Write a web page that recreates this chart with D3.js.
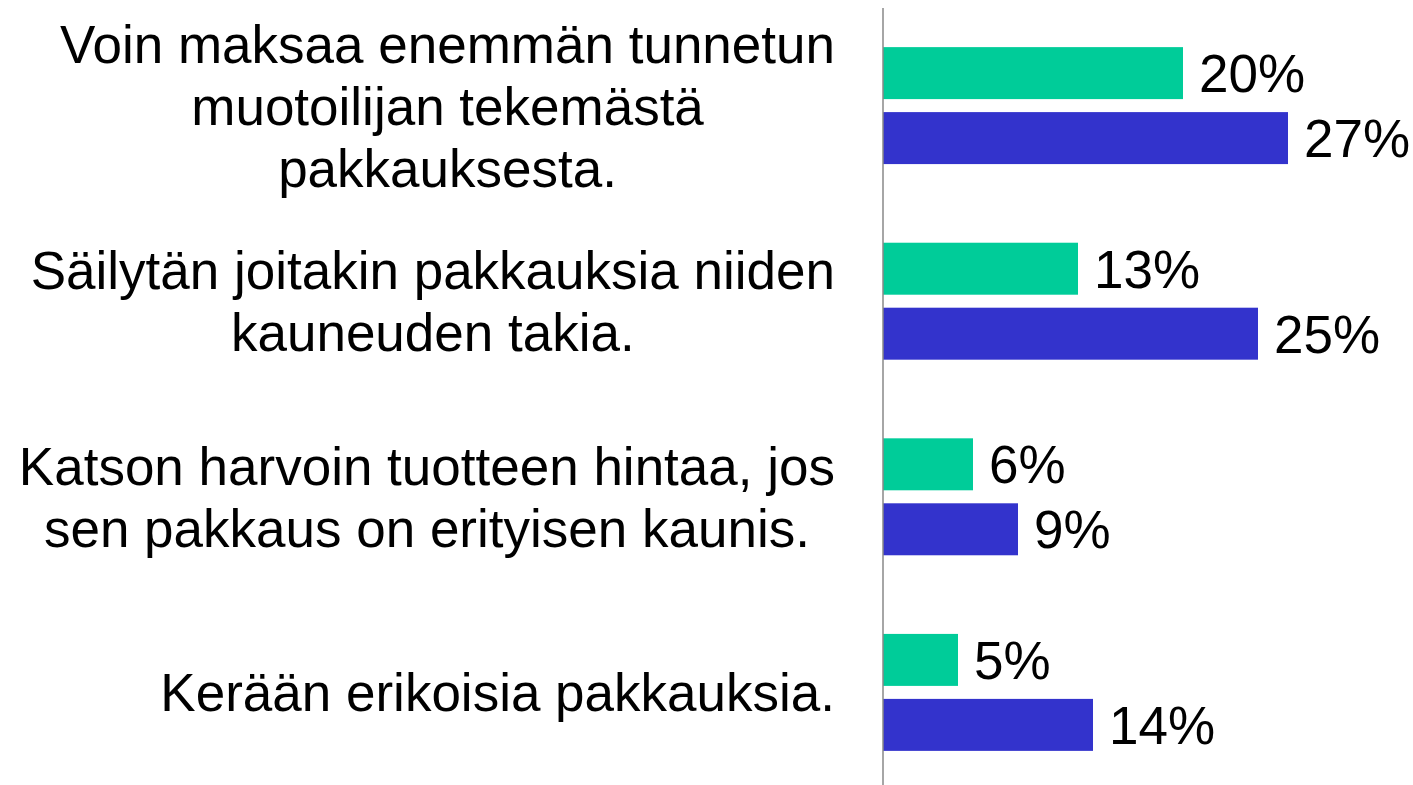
<!DOCTYPE html>
<html>
<head>
<meta charset="utf-8">
<script src="https://cdn.jsdelivr.net/npm/d3@7"></script>
<style>
body{margin:0;background:#fff}
text{font-family:"Liberation Sans",Arial,sans-serif;fill:#000}
</style>
</head>
<body>
<svg id="chart" width="1413" height="785"></svg>
<script>
// statements (lines as shown in the picture)
const categories=[
  ["Voin maksaa enemmän tunnetun","muotoilijan tekemästä","pakkauksesta."],
  ["Säilytän joitakin pakkauksia niiden","kauneuden takia."],
  ["Katson harvoin tuotteen hintaa, jos","sen pakkaus on erityisen kaunis."],
  ["Kerään erikoisia pakkauksia."]
]
const seriesA=[20,13,6,5]
const seriesB=[27,25,9,14]
const seriesKeys=["a","b"]
const colors={a:"#00CC99",b:"#3333CC"}

const svg=d3.select("#chart")
const x0=883
const fs=53, lh=62

const x=d3.scaleLinear().domain([0,1]).range([0,1500])
const y=d3.scaleBand().domain(d3.range(categories.length)).range([8,790]).paddingInner(0.402).paddingOuter(0.2)
const ySub=d3.scaleBand().domain(seriesKeys).range([0,y.bandwidth()]).paddingInner(0.2)

const rows=categories.map((c,i)=>({i,lines:c,a:seriesA[i],b:seriesB[i]}))

// bars
const g=svg.selectAll("g.grp").data(rows).join("g").attr("class","grp")
  .attr("transform",d=>`translate(${x0},${y(d.i)})`)
g.selectAll("rect").data(d=>seriesKeys.map(k=>({k,v:d[k]})))
  .join("rect")
  .attr("x",0).attr("y",d=>ySub(d.k))
  .attr("width",d=>x(d.v/100)).attr("height",ySub.bandwidth())
  .attr("fill",d=>colors[d.k])
g.selectAll("text.val").data(d=>seriesKeys.map(k=>({k,v:d[k]})))
  .join("text").attr("class","val")
  .attr("x",d=>x(d.v/100)+16)
  .attr("y",d=>ySub(d.k)+ySub.bandwidth()/2+fs*0.36)
  .style("font-size",fs+"px")
  .text(d=>d.v+"%")

// axis line
svg.append("line").attr("x1",x0).attr("x2",x0).attr("y1",8).attr("y2",785)
  .attr("stroke","#888").attr("stroke-width",1.5)

// category labels: block right aligned, lines centred in block
rows.forEach(d=>{
  const cy=y(d.i)+y.bandwidth()/2
  const n=d.lines.length
  const t=svg.append("text").style("font-size",fs+"px").attr("text-anchor","middle")
  const spans=t.selectAll("tspan").data(d.lines).join("tspan")
    .attr("y",(l,j)=>cy+(j-(n-1)/2)*lh+fs*0.36)
    .text(l=>l)
  let w=0
  spans.each(function(){w=Math.max(w,this.getComputedTextLength())})
  spans.attr("x",835-w/2)
})
</script>
</body>
</html>
